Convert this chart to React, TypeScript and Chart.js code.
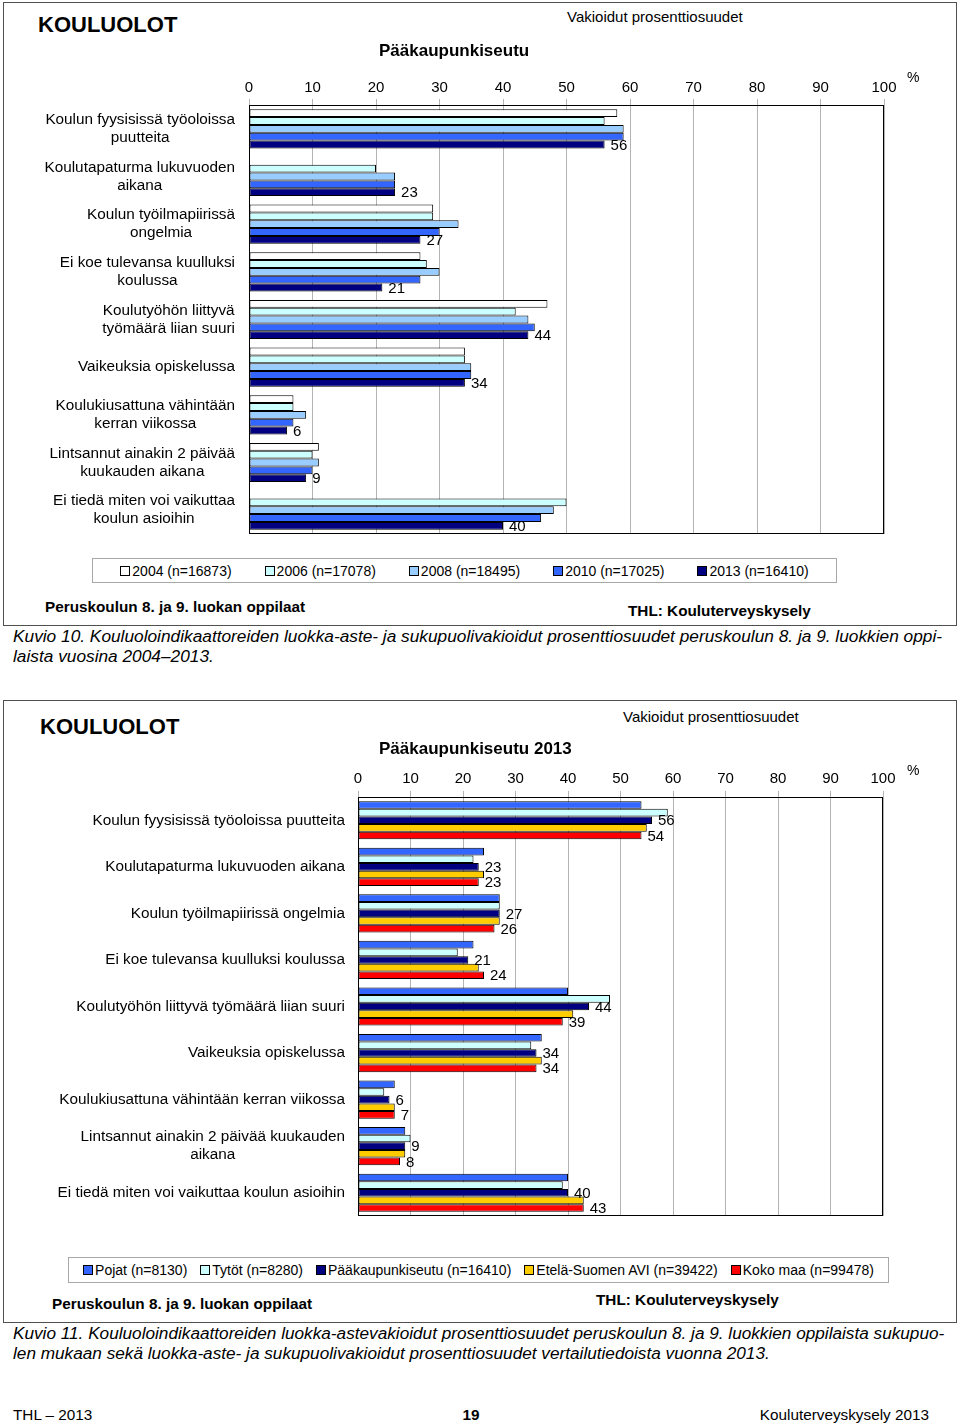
import React, { useEffect, useRef } from "react";
import { Chart, registerables } from "chart.js";

Chart.register(...registerables);

const FONT = '"Liberation Sans", Arial, sans-serif';

// ---------- Chart 1 (Kuvio 10) ----------
const chart1Categories: (string | string[])[] = [
  ["Koulun fyysisissä työoloissa", "puutteita"],
  ["Koulutapaturma lukuvuoden", "aikana"],
  ["Koulun työilmapiirissä", "ongelmia"],
  ["Ei koe tulevansa kuulluksi", "koulussa"],
  ["Koulutyöhön liittyvä", "työmäärä liian suuri"],
  "Vaikeuksia opiskelussa",
  ["Koulukiusattuna vähintään", "kerran viikossa"],
  ["Lintsannut ainakin 2 päivää", "kuukauden aikana"],
  ["Ei tiedä miten voi vaikuttaa", "koulun asioihin"],
];
const chart1SeriesNames = ["2004 (n=16873)", "2006 (n=17078)", "2008 (n=18495)", "2010 (n=17025)", "2013 (n=16410)"];
const chart1Colors = ["#ffffff", "#ccffff", "#99ccff", "#3366ff", "#000080"];
const values2004 = [58, null, 29, 27, 47, 34, 7, 11, null];
const values2006 = [56, 20, 29, 28, 42, 34, 7, 10, 50];
const values2008 = [59, 23, 33, 30, 44, 35, 9, 11, 48];
const values2010 = [59, 23, 30, 27, 45, 35, 7, 10, 46];
const values2013 = [56, 23, 27, 21, 44, 34, 6, 9, 40];
const chart1Labelled = [4];

// ---------- Chart 2 (Kuvio 11) ----------
const chart2Categories: (string | string[])[] = [
  "Koulun fyysisissä työoloissa puutteita",
  "Koulutapaturma lukuvuoden aikana",
  "Koulun työilmapiirissä ongelmia",
  "Ei koe tulevansa kuulluksi koulussa",
  "Koulutyöhön liittyvä työmäärä liian suuri",
  "Vaikeuksia opiskelussa",
  "Koulukiusattuna vähintään kerran viikossa",
  ["Lintsannut ainakin 2 päivää kuukauden", "aikana"],
  "Ei tiedä miten voi vaikuttaa koulun asioihin",
];
const chart2SeriesNames = ["Pojat (n=8130)", "Tytöt (n=8280)", "Pääkaupunkiseutu (n=16410)", "Etelä-Suomen AVI (n=39422)", "Koko maa (n=99478)"];
const chart2Colors = ["#3366ff", "#ccffff", "#000080", "#ffcc00", "#ff0000"];
const valuesPojat = [54, 24, 27, 22, 40, 35, 7, 9, 40];
const valuesTytot = [59, 22, 27, 19, 48, 33, 5, 10, 39];
const valuesPk = [56, 23, 27, 21, 44, 34, 6, 9, 40];
const valuesAvi = [55, 24, 27, 23, 41, 35, 7, 9, 43];
const valuesKoko = [54, 23, 26, 24, 39, 34, 7, 8, 43];
const chart2Labelled = [2, 4];

const xTicks = [0, 10, 20, 30, 40, 50, 60, 70, 80, 90, 100];

type ChartProps = {
  categories: (string | string[])[];
  names: string[];
  colors: string[];
  series: (number | null)[][];
  labelled: number[];
  left: number;
  top: number;
  width: number;
  height: number;
  yWidth: number;
  xHeight: number;
  padRight: number;
  padBottom: number;
  labelGap: number;
  tickPad: number;
};

function BarChart(p: ChartProps) {
  const ref = useRef<HTMLCanvasElement | null>(null);
  useEffect(() => {
    if (!ref.current) return;
    const customPlugin = {
      id: "customDraw",
      afterDatasetsDraw(chart: any) {
        const ctx = chart.ctx;
        const a = chart.chartArea;
        ctx.save();
        // value labels
        ctx.font = `15px ${FONT}`;
        ctx.fillStyle = "#000";
        ctx.textAlign = "left";
        ctx.textBaseline = "middle";
        p.labelled.forEach((di) => {
          const meta = chart.getDatasetMeta(di);
          const data = chart.data.datasets[di].data;
          meta.data.forEach((el: any, i: number) => {
            const v = data[i];
            if (v === null || v === undefined) return;
            ctx.fillText(String(v), el.x + 6, el.y + 1);
          });
        });
        // plot frame
        ctx.strokeStyle = "#000";
        ctx.lineWidth = 1;
        ctx.strokeRect(Math.round(a.left) + 0.5, Math.round(a.top) + 0.5, Math.round(a.right - a.left) - 1, Math.round(a.bottom - a.top) - 1);
        // category labels: right-aligned block, lines centred within it
        const ys = chart.scales.y;
        ctx.font = `15.3px ${FONT}`;
        ctx.textAlign = "center";
        const labels = chart.data.labels as (string | string[])[];
        labels.forEach((lab, i) => {
          const lines = Array.isArray(lab) ? lab : [lab];
          const w = Math.max(...lines.map((l) => ctx.measureText(l).width));
          const rightX = a.left - p.labelGap;
          const cx = rightX - w / 2;
          const cy = ys.getPixelForTick(i);
          const lh = 18;
          lines.forEach((l, j) => {
            ctx.fillText(l, cx, cy + (j - (lines.length - 1) / 2) * lh);
          });
        });
        ctx.restore();
      },
    };
    const chart = new Chart(ref.current, {
      type: "bar",
      data: {
        labels: p.categories as any,
        datasets: p.series.map((d, i) => ({
          label: p.names[i],
          data: d as any,
          backgroundColor: p.colors[i],
          borderColor: "#000000",
          borderWidth: 1,
          borderSkipped: false,
          barPercentage: 1.0,
          categoryPercentage: 0.82,
        })),
      },
      options: {
        indexAxis: "y",
        responsive: false,
        animation: false,
        devicePixelRatio: 1,
        layout: { padding: { left: 0, top: 0, right: p.padRight, bottom: p.padBottom } },
        plugins: { legend: { display: false }, tooltip: { enabled: false }, title: { display: false } },
        scales: {
          x: {
            position: "top",
            min: 0,
            max: 100,
            afterBuildTicks: (scale: any) => {
              scale.ticks = xTicks.map((v) => ({ value: v }));
            },
            afterFit: (scale: any) => {
              scale.height = p.xHeight;
            },
            ticks: { color: "#000", font: { family: FONT, size: 15 }, padding: p.tickPad },
            grid: { color: "#b4b4b4", lineWidth: 1, tickLength: 6, drawTicks: true },
            border: { display: false },
          },
          y: {
            afterFit: (scale: any) => {
              scale.width = p.yWidth;
            },
            ticks: { display: false },
            grid: { display: false },
            border: { display: false },
          },
        },
      } as any,
      plugins: [customPlugin],
    });
    return () => chart.destroy();
  }, []);
  return (
    <canvas
      ref={ref}
      width={p.width}
      height={p.height}
      style={{ position: "absolute", left: p.left, top: p.top, width: p.width, height: p.height }}
    />
  );
}

type TxtProps = {
  x: number;
  y: number;
  size: number;
  bold?: boolean;
  italic?: boolean;
  anchor?: "left" | "right" | "center";
  children: React.ReactNode;
};

function Txt({ x, y, size, bold, italic, anchor = "left", children }: TxtProps) {
  const style: React.CSSProperties = {
    position: "absolute",
    top: y - size * 0.59,
    fontSize: size,
    lineHeight: 1.2,
    fontWeight: bold ? "bold" : "normal",
    fontStyle: italic ? "italic" : "normal",
    whiteSpace: "nowrap",
    color: "#000",
  };
  if (anchor === "left") style.left = x;
  else if (anchor === "right") style.right = 960 - x;
  else {
    style.left = x;
    style.transform = "translateX(-50%)";
  }
  return <div style={style}>{children}</div>;
}

function Legend({ names, colors, left, top, width, height, gap }: { names: string[]; colors: string[]; left: number; top: number; width: number; height: number; gap: number }) {
  return (
    <div
      style={{
        position: "absolute",
        left,
        top,
        width,
        height,
        boxSizing: "border-box",
        border: "1px solid #a8a8a8",
        display: "flex",
        alignItems: "center",
        justifyContent: "center",
        gap,
        fontSize: 14,
        whiteSpace: "nowrap",
      }}
    >
      {names.map((n, i) => (
        <div key={n} style={{ display: "flex", alignItems: "center" }}>
          <span
            style={{
              display: "inline-block",
              width: 8,
              height: 8,
              border: "1px solid #000",
              background: colors[i],
              marginRight: 2,
            }}
          />
          <span>{n}</span>
        </div>
      ))}
    </div>
  );
}

function Frame({ left, top, right, bottom }: { left: number; top: number; right: number; bottom: number }) {
  return (
    <div
      style={{
        position: "absolute",
        left,
        top,
        width: right - left,
        height: bottom - top,
        boxSizing: "border-box",
        border: "1.5px solid #505050",
      }}
    />
  );
}

export default function App() {
  return (
    <div
      style={{
        position: "absolute",
        left: 0,
        top: 0,
        width: 960,
        height: 1427,
        background: "#fff",
        fontFamily: FONT,
        overflow: "hidden",
      }}
    >
      {/* Chart 1 */}
      <Frame left={3} top={2} right={957} bottom={626} />
      <BarChart
        categories={chart1Categories}
        names={chart1SeriesNames}
        colors={chart1Colors}
        series={[values2004, values2006, values2008, values2010, values2013]}
        labelled={chart1Labelled}
        left={10}
        top={60}
        width={940}
        height={485}
        yWidth={239}
        xHeight={45}
        padRight={66}
        padBottom={11}
        labelGap={14}
        tickPad={2}
      />
      <Txt x={38} y={25} size={22} bold>KOULUOLOT</Txt>
      <Txt x={379} y={51} size={17} bold>Pääkaupunkiseutu</Txt>
      <Txt x={567} y={17} size={15}>Vakioidut prosenttiosuudet</Txt>
      <Txt x={907} y={77} size={14}>%</Txt>
      <Legend names={chart1SeriesNames} colors={chart1Colors} left={92} top={558} width={745} height={25} gap={33} />
      <Txt x={45} y={607} size={15.3} bold>Peruskoulun 8. ja 9. luokan oppilaat</Txt>
      <Txt x={628} y={611} size={15.3} bold>THL: Kouluterveyskysely</Txt>
      <Txt x={13} y={636} size={17.3} italic>
        Kuvio 10. Kouluoloindikaattoreiden luokka-aste- ja sukupuolivakioidut prosenttiosuudet peruskoulun 8. ja 9. luokkien oppi-
      </Txt>
      <Txt x={13} y={656} size={17.3} italic>laista vuosina 2004–2013.</Txt>

      {/* Chart 2 */}
      <Frame left={3} top={700} right={957} bottom={1323} />
      <BarChart
        categories={chart2Categories}
        names={chart2SeriesNames}
        colors={chart2Colors}
        series={[valuesPojat, valuesTytot, valuesPk, valuesAvi, valuesKoko]}
        labelled={chart2Labelled}
        left={10}
        top={750}
        width={940}
        height={475}
        yWidth={348}
        xHeight={47}
        padRight={67}
        padBottom={9}
        labelGap={13}
        tickPad={3}
      />
      <Txt x={40} y={727} size={22} bold>KOULUOLOT</Txt>
      <Txt x={379} y={749} size={17} bold>Pääkaupunkiseutu 2013</Txt>
      <Txt x={623} y={717} size={15}>Vakioidut prosenttiosuudet</Txt>
      <Txt x={907} y={770} size={14}>%</Txt>
      <Legend names={chart2SeriesNames} colors={chart2Colors} left={68} top={1257} width={821} height={26} gap={13} />
      <Txt x={52} y={1304} size={15.3} bold>Peruskoulun 8. ja 9. luokan oppilaat</Txt>
      <Txt x={596} y={1300} size={15.3} bold>THL: Kouluterveyskysely</Txt>
      <Txt x={13} y={1333} size={17.2} italic>
        Kuvio 11. Kouluoloindikaattoreiden luokka-astevakioidut prosenttiosuudet peruskoulun 8. ja 9. luokkien oppilaista sukupuo-
      </Txt>
      <Txt x={13} y={1353} size={17.2} italic>
        len mukaan sekä luokka-aste- ja sukupuolivakioidut prosenttiosuudet vertailutiedoista vuonna 2013.
      </Txt>

      {/* Page footer */}
      <Txt x={13} y={1415} size={15.3}>THL – 2013</Txt>
      <Txt x={471} y={1415} size={15.3} bold anchor="center">19</Txt>
      <Txt x={929} y={1415} size={15.3} anchor="right">Kouluterveyskysely 2013</Txt>
    </div>
  );
}
